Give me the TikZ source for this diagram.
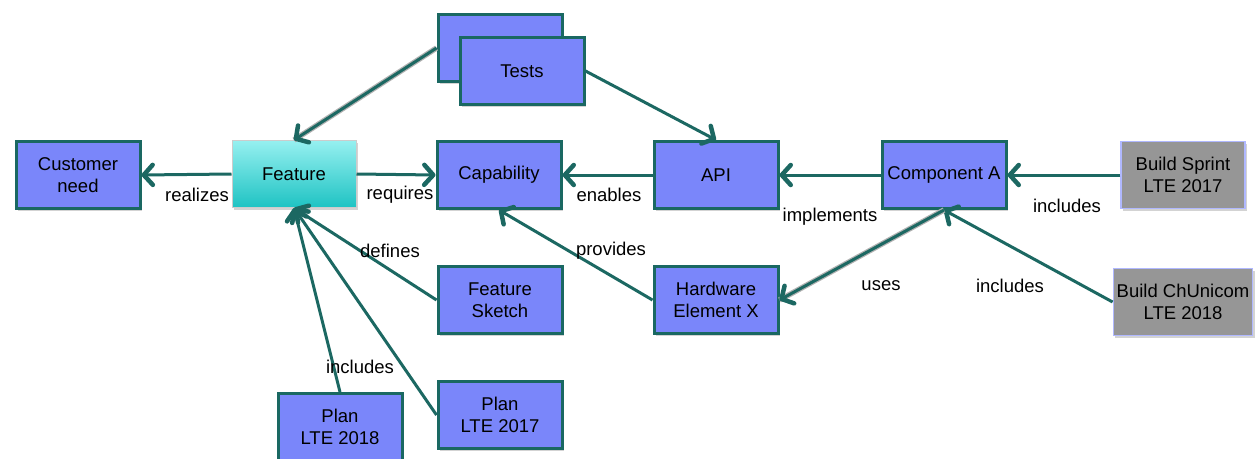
\documentclass[tikz,border=0pt]{standalone}
\usepackage{fontspec}
\setmainfont{Liberation Sans}
\usetikzlibrary{arrows.meta,shadows}
\definecolor{boxfill}{RGB}{122,134,250}
\definecolor{boxline}{RGB}{26,104,98}
\definecolor{edgecol}{RGB}{28,104,98}
\definecolor{grayfill}{RGB}{150,150,150}
\definecolor{grayline}{RGB}{176,184,255}
\definecolor{feattop}{RGB}{150,240,240}
\definecolor{featbot}{RGB}{30,195,195}
\tikzset{
  box/.style={rectangle, draw=boxline, line width=3pt, fill=boxfill,
    minimum width=124pt, minimum height=67pt, align=center,
    font=\fontsize{18.5}{22}\selectfont,
    drop shadow={opacity=0.35, shadow xshift=2pt, shadow yshift=-2pt}},
  featbox/.style={box, draw=gray!40, line width=1pt, top color=feattop, bottom color=featbot},
  graybox/.style={box, draw=grayline, line width=1.5pt, fill=grayfill},
  lbl/.style={font=\fontsize{18.5}{22}\selectfont, inner sep=1pt},
  edge/.style={draw=edgecol, line width=3pt,
    -{Straight Barb[length=9pt,width=20pt,line width=4.5pt,round]}},
  dedge/.style={edge, preaction={draw=gray!60, line width=5.5pt, -}}
}
\begin{document}
\begin{tikzpicture}[x=1pt,y=-1pt]
\useasboundingbox (0,0) rectangle (1258,458);
% nodes
\node[box] (cust) at (78,175) {Customer\\need};
\node[featbox] (feat) at (294,174) {Feature};
\node[box] (cap) at (499,175) {Capability};
\node[box] (api) at (716,175) {API};
\node[box] (comp) at (944,175) {Component A};
\node[graybox] (bsp) at (1183,175) {Build Sprint\\LTE 2017};
\node[graybox] (bch) at (1183,302) {Build ChUnicom\\LTE 2018};
\node[box] (testsb) at (500,48) {};
\node[box] (tests) at (522,71) {Tests};
\node[box] (fs) at (500,300) {Feature\\Sketch};
\node[box] (hw) at (716,300) {Hardware\\Element X};
\node[box] (p18) at (340,427) {Plan\\LTE 2018};
\node[box] (p17) at (500,415) {Plan\\LTE 2017};
% edges
\draw[edge] (feat.west) -- (cust.east);
\draw[edge] (feat.east) -- (cap.west);
\draw[edge] (api.west) -- (cap.east);
\draw[edge] (comp.west) -- (api.east);
\draw[edge] (bsp.west) -- (comp.east);
\draw[edge] (bch.west) -- (comp.south);
\draw[dedge] (comp.south) -- (hw.east);
\draw[edge] (hw.west) -- (cap.south);
\draw[edge] (fs.west) -- (feat.south);
\draw[edge] (p18.north) -- (feat.south);
\draw[edge] (p17.west) -- (feat.south);
\draw[dedge] (testsb.west) -- (feat.north);
\draw[edge] (tests.east) -- (api.north);
% labels
\node[lbl] (l1) at (197,195) {realizes};
\node[lbl] (l2) at (400,195) {requires};
\node[lbl] (l3) at (609,195) {enables};
\node[lbl] (l4) at (830,217) {implements};
\node[lbl] (l5) at (1067,206) {includes};
\node[lbl] (l6) at (1010,286) {includes};
\node[lbl] (l7) at (881,286) {uses};
\node[lbl] (l8) at (611,251) {provides};
\node[lbl] (l9) at (390,251) {defines};
\node[lbl] (l10) at (360,367) {includes};
\end{tikzpicture}
\end{document}
